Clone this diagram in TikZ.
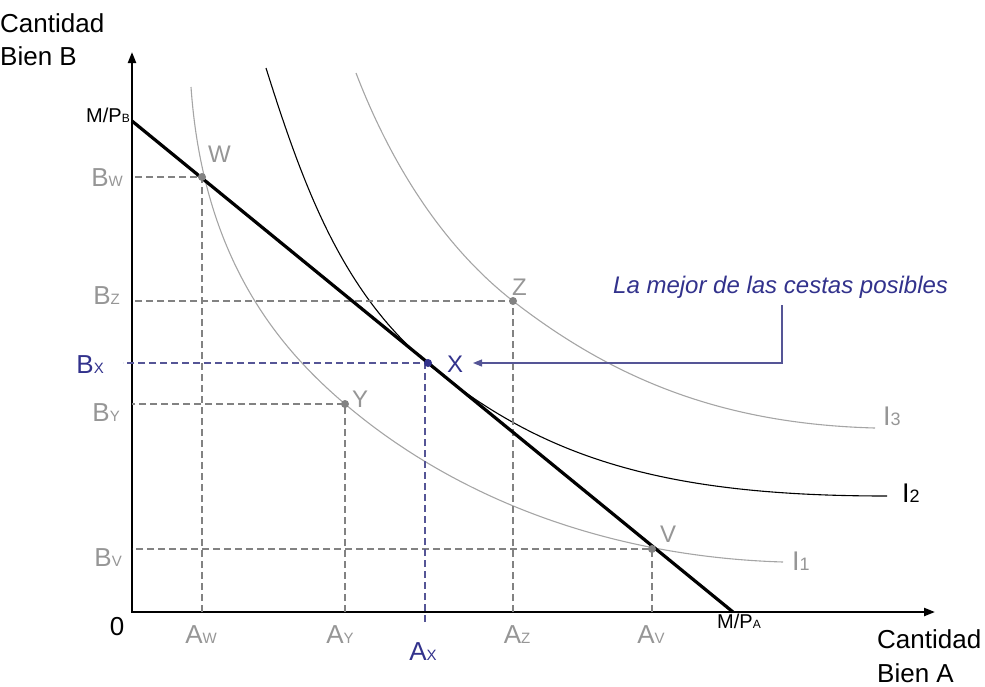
\documentclass[tikz,border=0pt]{standalone}
\usepackage{fontspec}
\setmainfont{Liberation Sans}
\usetikzlibrary{arrows.meta}
\definecolor{lgray}{RGB}{150,150,150}
\definecolor{dgray}{RGB}{130,130,130}
\definecolor{cgray}{RGB}{165,165,165}
\definecolor{navy}{RGB}{50,50,140}
\definecolor{navyline}{RGB}{85,85,150}
\newcommand\subl[2]{#1{\fontsize{15}{15}\selectfont #2}}
\newcommand\subm[2]{#1{\fontsize{12}{12}\selectfont #2}}
\newcommand\subi[2]{#1{\fontsize{18}{18}\selectfont #2}}
\begin{document}
\begin{tikzpicture}[x=1pt,y=-1pt,
  axis/.style={line width=2.2pt,{Triangle[length=11pt,width=8pt]}-{Triangle[length=11pt,width=8pt]}},
  budget/.style={line width=3.2pt},
  indif/.style={line width=1.1pt,cgray},
  guide/.style={line width=1.1pt,dgray,dash pattern=on 7pt off 4pt},
  bguide/.style={guide,navyline},
  dot/.style={circle,fill=dgray,inner sep=0pt,minimum size=8pt},
  lbl/.style={font=\fontsize{26}{28}\selectfont,text=lgray,inner sep=0pt},
  ptl/.style={font=\fontsize{24}{26}\selectfont,text=lgray,inner sep=0pt,anchor=base west},
  mpl/.style={font=\fontsize{20}{22}\selectfont,inner sep=0pt},
  ttl/.style={font=\fontsize{26}{28}\selectfont,inner sep=0pt,anchor=base west},
  curvl/.style={font=\fontsize{27}{28}\selectfont,inner sep=0pt,anchor=base west}]
\useasboundingbox (0,0) rectangle (985,686);

% axes
\coordinate (O) at (132,612);
\coordinate (ytip) at (132,52);
\coordinate (xtip) at (935,612);
\draw[axis,line join=miter] (ytip) -- (O) -- (xtip);

% axis titles
\node[ttl] (tb1) at (0,32) {Cantidad};
\node[ttl] (tb2) at (0,65) {Bien B};
\node[ttl] (ta1) at (877,648) {Cantidad};
\node[ttl] (ta2) at (877,682) {Bien A};
\node[lbl,text=black,anchor=base] (zero) at (117,635) {0};

% points
\coordinate (Wc) at (202,177);
\coordinate (Zc) at (513,301);
\coordinate (Yc) at (345,404);
\coordinate (Vc) at (652,549);
\coordinate (Xc) at (428,363);

% indifference curves
\draw[indif] (191,87) .. controls (202.9,256.6) and (276.4,345.7) .. (Yc)
             .. controls (459.3,501.2) and (613,556.9) .. (783,562);
\draw[line width=1.1pt,black] (266,68) .. controls (305,192) and (344,295) .. (432,367)
             .. controls (548,462) and (673,496) .. (887,496);
\draw[indif] (356,73) .. controls (389,159) and (440,244) .. (Zc)
             .. controls (616,381) and (725,424) .. (875,428);

\node[curvl,text=lgray] (I1) at (792,570) {\subi{I}{1}};
\node[curvl,text=black] (I2) at (902,502) {\subi{I}{2}};
\node[curvl,text=lgray] (I3) at (883,425) {\subi{I}{3}};

% guides
\draw[guide] (Wc |- O) -- (Wc) -- (Wc -| O);
\draw[guide] (Zc |- O) -- (Zc) -- (Zc -| O);
\draw[guide] (Yc |- O) -- (Yc) -- (Yc -| O);
\draw[guide] (Vc |- O) -- (Vc) -- (Vc -| O);
\coordinate (xbot) at (425,622);
\coordinate (xleft) at (123,363);
\draw[bguide] (xbot) -- (425,363) -- (xleft);

% budget line
\coordinate (MB) at (132,121);
\coordinate (MA) at (733,612);
\draw[budget] (MB) -- (MA);

\node[dot] (W) at (Wc) {};
\node[dot] (Z) at (Zc) {};
\node[dot] (Y) at (Yc) {};
\node[dot] (V) at (Vc) {};
\node[dot,fill=navy] (X) at (Xc) {};

\node[mpl,anchor=base east] (mpb) at (130,122) {\subm{M/P}{B}};
\node[mpl,anchor=base] (mpa) at (739,628) {\subm{M/P}{A}};

% point labels
\node[ptl] (Wl) at (208,162) {W};
\node[ptl] (Zl) at (512,295) {Z};
\node[ptl,text=navy] (Xl) at (447,372) {X};
\node[ptl] (Yl) at (352,407) {Y};
\node[ptl] (Vl) at (660,542) {V};

% axis value labels
\node[lbl,anchor=base east] (BW) at (123,186) {\subl{B}{W}};
\node[lbl,anchor=base east] (BZ) at (120,304) {\subl{B}{Z}};
\node[lbl,anchor=base east,text=navy] (BX) at (104,373) {\subl{B}{X}};
\node[lbl,anchor=base east] (BY) at (120,421) {\subl{B}{Y}};
\node[lbl,anchor=base east] (BV) at (122,566) {\subl{B}{V}};
\node[lbl,anchor=base] (AW) at (201,643) {\subl{A}{W}};
\node[lbl,anchor=base] (AY) at (340,643) {\subl{A}{Y}};
\node[lbl,anchor=base,text=navy] (AX) at (423,660) {\subl{A}{X}};
\node[lbl,anchor=base] (AZ) at (517,643) {\subl{A}{Z}};
\node[lbl,anchor=base] (AV) at (651,643) {\subl{A}{V}};

% annotation
\node[inner sep=0pt,anchor=base west,text=navy,font=\fontsize{24}{26}\selectfont\itshape] (best) at (613,293) {La mejor de las cestas posibles};
\coordinate (bstart) at (782,305);
\coordinate (bend) at (473,363);
\draw[navyline,line width=1.2pt,-{Triangle[length=9pt,width=7pt]}] (bstart) |- (bend);
\end{tikzpicture}
\end{document}
